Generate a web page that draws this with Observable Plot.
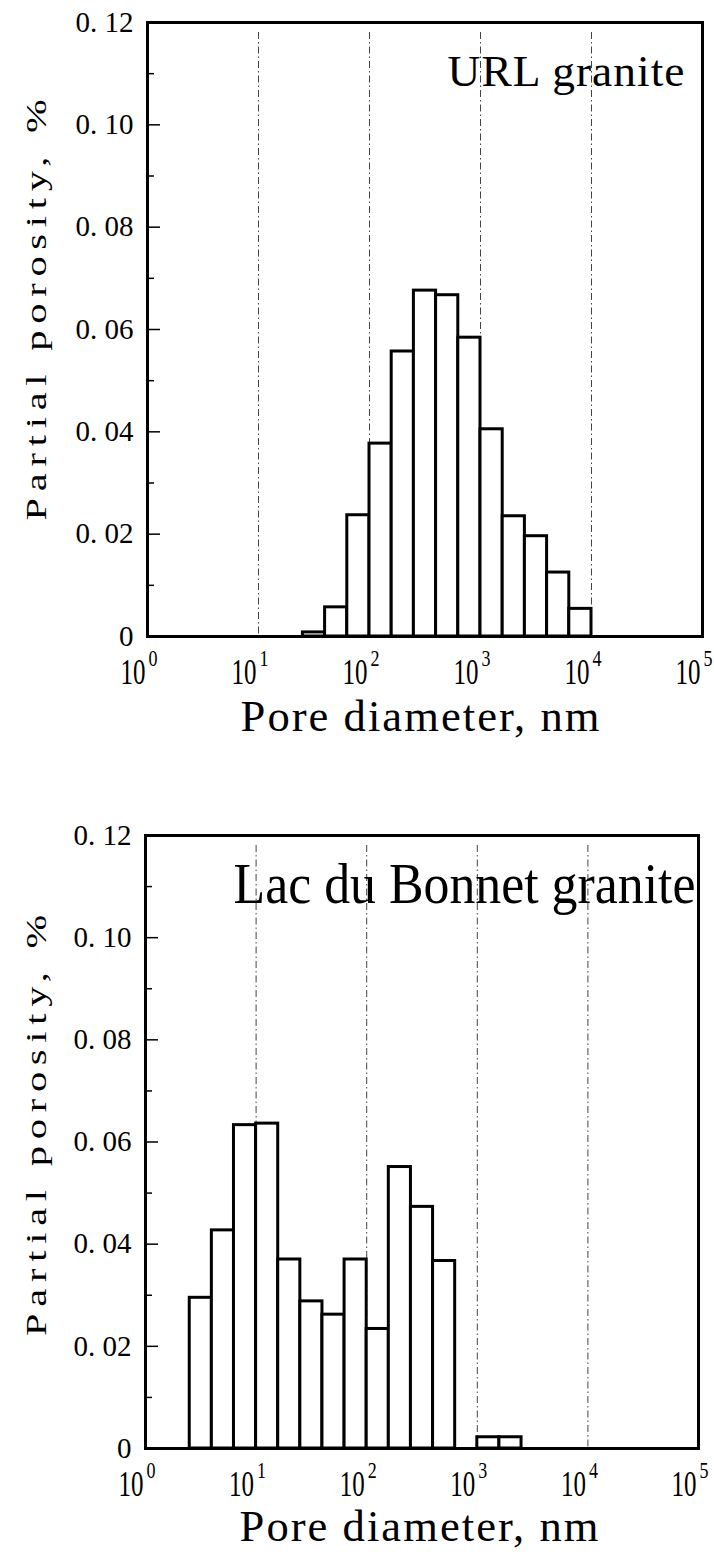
<!DOCTYPE html>
<html>
<head>
<meta charset="utf-8">
<script src="https://cdn.jsdelivr.net/npm/d3@7"></script>
<script src="https://cdn.jsdelivr.net/npm/@observablehq/plot@0.6"></script>
<style>
  body { margin: 0; background: #fff; }
  #chart svg { display: block; }
</style>
</head>
<body>
<div id="chart"></div>
<script>
// Pore-size distributions (partial porosity per 0.2-decade bin of pore diameter)
const binWidth = 0.2; // bin width in log10(nm)

// URL granite: lower bin edge in log10(nm) and partial porosity (%)
const urlBinStart = [1.4, 1.6, 1.8, 2.0, 2.2, 2.4, 2.6, 2.8, 3.0, 3.2, 3.4, 3.6, 3.8];
const urlPorosity = [0.0008, 0.0057, 0.0237, 0.0377, 0.0557, 0.0676, 0.0667, 0.0584, 0.0405, 0.0235, 0.0196, 0.0125, 0.0054];

// Lac du Bonnet granite
const ldbBinStart = [0.4, 0.6, 0.8, 1.0, 1.2, 1.4, 1.6, 1.8, 2.0, 2.2, 2.4, 2.6, 3.0, 3.2];
const ldbPorosity = [0.0295, 0.0427, 0.0633, 0.0636, 0.037, 0.0288, 0.0262, 0.037, 0.0234, 0.0551, 0.0473, 0.0367, 0.0022, 0.0022];

// Axis ticks
const decades = [0, 1, 2, 3, 4, 5];          // x tick labels 10^d
const gridDecades = [1, 2, 3, 4];             // dashed vertical guides
const yMajor = [0, 0.02, 0.04, 0.06, 0.08, 0.10, 0.12];
const yMinor = [0.01, 0.03, 0.05, 0.07, 0.09, 0.11];

const xTitle = "Pore diameter, nm";
const yTitle = "Partial porosity, %";

const SERIF = "Liberation Serif";
const EXP_SIZE = 24;
const fmtY = d => d === 0 ? "0" : d3.format(".2f")(d).replace(".", ". ");

// Scale selected texts horizontally (along their own direction) to a fixed length.
function squeeze(svg, pred, length, spacing) {
  d3.select(svg).selectAll("text").filter(function() { return pred(this); }).each(function() {
    if (spacing) this.style.letterSpacing = spacing;
    const k = length / this.getComputedTextLength();
    let tf = this.getAttribute("transform");
    if (!tf) {
      tf = `translate(${this.getAttribute("x") || 0},${this.getAttribute("y") || 0})`;
      this.removeAttribute("x");
      this.removeAttribute("y");
    }
    this.setAttribute("transform", `${tf} scale(${k},1)`);
  });
}

function panel(o) {
  const frameW = 714 - o.marginLeft - o.marginRight;
  const bins = o.starts.map((s, i) => ({s, v: o.values[i]}));
  const svg = Plot.plot({
    width: 714,
    height: o.height,
    marginLeft: o.marginLeft,
    marginRight: o.marginRight,
    marginTop: o.marginTop,
    marginBottom: o.marginBottom,
    style: {fontFamily: SERIF, background: "white", color: "black", overflow: "visible"},
    x: {type: "log", domain: [1, 1e5], axis: null},
    y: {domain: [0, 0.12], axis: null},
    marks: [
      Plot.ruleX(gridDecades, {x: d => 10 ** d, insetTop: 10, stroke: "#444", strokeWidth: 1, strokeDasharray: "7,3,1.5,3"}),
      Plot.rect(bins, {x1: d => 10 ** d.s, x2: d => 10 ** (d.s + binWidth), y1: 0, y2: "v", fill: "white", stroke: "black", strokeWidth: 3}),
      Plot.tickY(yMajor, {insetRight: frameW - 13, stroke: "black", strokeWidth: 1.5}),
      Plot.tickY(yMinor, {insetRight: frameW - 7, stroke: "black", strokeWidth: 1.5}),
      Plot.axisY(yMajor, {anchor: "left", tickSize: 0, tickPadding: 14, tickFormat: fmtY, fontSize: 29, fontFamily: SERIF, label: null}),
      Plot.frame({stroke: "black", strokeWidth: 3}),
      // x tick labels: "10" with a raised exponent
      Plot.text(decades, {x: d => 10 ** d, text: () => "10", frameAnchor: "bottom", textAnchor: "end", lineAnchor: "bottom",
        dx: -2, dy: o.tenDy, fontSize: 36, fontFamily: SERIF}),
      Plot.text(decades, {x: d => 10 ** d, text: d => String(d), frameAnchor: "bottom", textAnchor: "start", lineAnchor: "bottom",
        dx: 1, dy: o.expDy, fontSize: EXP_SIZE, fontFamily: SERIF}),
      Plot.text([xTitle], {frameAnchor: "bottom", lineAnchor: "bottom", dx: o.titleDx, dy: o.titleDy, fontSize: 44, fontFamily: SERIF}),
      // y title reads upward from its start point
      Plot.text([yTitle], {frameAnchor: "left", rotate: -90, textAnchor: "start", lineAnchor: "bottom",
        dx: 45 - o.marginLeft, dy: o.yTitleDy, fontSize: 30, fontFamily: SERIF}),
      Plot.text([o.name], {frameAnchor: "top-right", textAnchor: "end", lineAnchor: "bottom", dx: o.nameDx, dy: o.nameDy,
        fontSize: o.nameSize, fontFamily: SERIF})
    ]
  });
  document.getElementById("chart").append(svg);
  squeeze(svg, el => el.textContent === "10", 25);
  squeeze(svg, el => getComputedStyle(el).fontSize === EXP_SIZE + "px", 9);
  squeeze(svg, el => el.textContent === xTitle, 361, "2px");
  squeeze(svg, el => el.textContent === yTitle, 428, "5px");
  squeeze(svg, el => el.textContent === o.name, o.nameLength, o.nameSpacing);
  return svg;
}

panel({
  starts: urlBinStart, values: urlPorosity, name: "URL granite",
  height: 790, marginTop: 22, marginBottom: 154, marginLeft: 147, marginRight: 12,
  tenDy: 47, expDy: 29, titleDx: -4, titleDy: 94, yTitleDy: 191,
  nameDx: -17, nameDy: 63, nameSize: 45, nameLength: 238, nameSpacing: "1px"
});
panel({
  starts: ldbBinStart, values: ldbPorosity, name: "Lac du Bonnet granite",
  height: 765, marginTop: 45, marginBottom: 107, marginLeft: 145, marginRight: 16,
  tenDy: 47, expDy: 29, titleDx: -2, titleDy: 92, yTitleDy: 194,
  nameDx: -3, nameDy: 67, nameSize: 57, nameLength: 462, nameSpacing: null
});
</script>
</body>
</html>
